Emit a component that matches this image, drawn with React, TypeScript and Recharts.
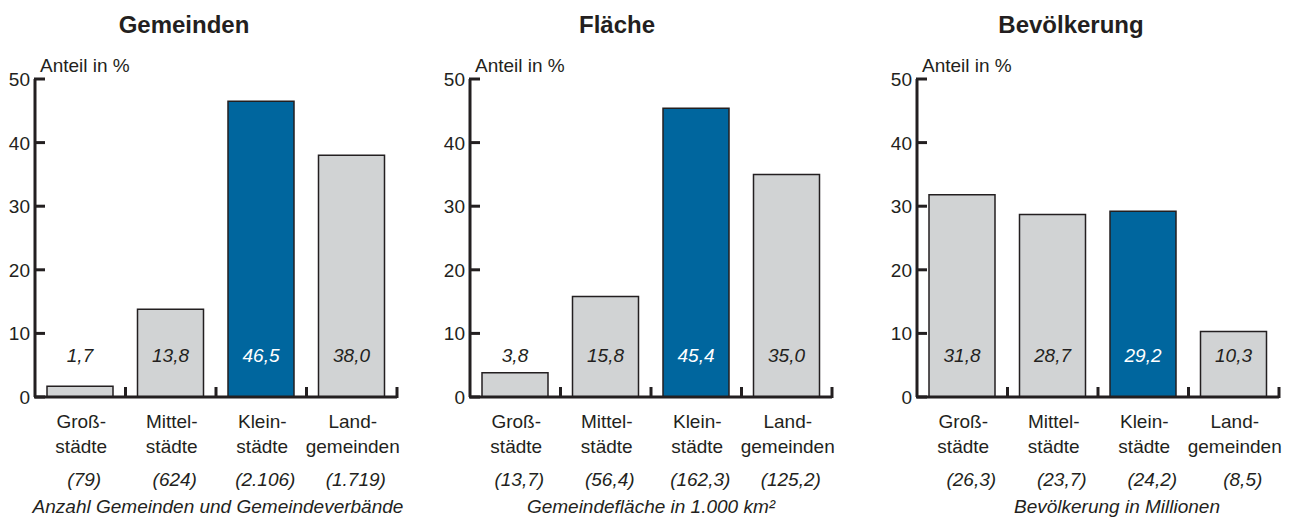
import React from 'react';
import { BarChart, Bar, XAxis, YAxis, Cell, LabelList } from 'recharts';

// ---------------------------------------------------------------------------
// Data
// ---------------------------------------------------------------------------

const CATEGORY_KEYS = ['gross', 'mittel', 'klein', 'land'];
const CATEGORY_LINE1 = ['Groß-', 'Mittel-', 'Klein-', 'Land-'];
const CATEGORY_LINE2 = ['städte', 'städte', 'städte', 'gemeinden'];
const HIGHLIGHT_INDEX = 2;

const Y_TICKS = [0, 10, 20, 30, 40, 50];

const GEMEINDEN_SHARE = [1.7, 13.8, 46.5, 38.0];
const GEMEINDEN_ABS = ['(79)', '(624)', '(2.106)', '(1.719)'];

const FLAECHE_SHARE = [3.8, 15.8, 45.4, 35.0];
const FLAECHE_ABS = ['(13,7)', '(56,4)', '(162,3)', '(125,2)'];

const BEVOELKERUNG_SHARE = [31.8, 28.7, 29.2, 10.3];
const BEVOELKERUNG_ABS = ['(26,3)', '(23,7)', '(24,2)', '(8,5)'];

// ---------------------------------------------------------------------------
// Styling
// ---------------------------------------------------------------------------

const INK = '#231f20';
const GRAY = '#d1d3d4';
const BLUE = '#00669e';
const FONT = '"Liberation Sans", Arial, Helvetica, sans-serif';

const CHART_W = 412;
const CHART_H = 518;
const AXIS_W = 35;
const X_AXIS_H = 121;
const MARGIN = { top: 79, right: 15, left: 0, bottom: 0 };
const PLOT_W = CHART_W - AXIS_W - MARGIN.right;

const fmt = (v: number) => v.toFixed(1).replace('.', ',');

// ---------------------------------------------------------------------------
// Custom ticks / labels
// ---------------------------------------------------------------------------

const YTick = (props: any) => {
  const { x, y, payload } = props;
  return (
    <g>
      <line x1={x + 4} x2={x + 15} y1={y} y2={y} stroke={INK} strokeWidth={3} />
      <text x={x} y={y + 7} textAnchor="end" fontSize={19} fill={INK}>
        {payload.value}
      </text>
    </g>
  );
};

const makeXTick = (abs: string[], absDx: number) => (props: any) => {
  const { x, y, payload, index } = props;
  const i = typeof index === 'number' ? index : CATEGORY_KEYS.indexOf(payload.value);
  const half = payload && typeof payload.offset === 'number' && payload.offset > 0
    ? payload.offset
    : PLOT_W / CATEGORY_KEYS.length / 2;
  return (
    <g>
      <line x1={x + half} x2={x + half} y1={y + 1} y2={y - 10} stroke={INK} strokeWidth={3} />
      <text x={x + 1} y={y + 31} textAnchor="middle" fontSize={19} fill={INK}>{CATEGORY_LINE1[i]}</text>
      <text x={x + 1} y={y + 56} textAnchor="middle" fontSize={19} fill={INK}>{CATEGORY_LINE2[i]}</text>
      <text x={x + absDx} y={y + 89} textAnchor="middle" fontSize={19} fontStyle="italic" fill={INK}>
        {abs[i]}
      </text>
    </g>
  );
};

const ValueLabel = (props: any) => {
  const vb = props.viewBox ?? props;
  const { x, y, width, height } = vb;
  const isHi = props.index === HIGHLIGHT_INDEX;
  return (
    <text
      x={x + width / 2}
      y={y + height - 35}
      textAnchor="middle"
      fontSize={19}
      fontStyle="italic"
      fill={isHi ? '#ffffff' : INK}
    >
      {props.value}
    </text>
  );
};

// ---------------------------------------------------------------------------
// Panel
// ---------------------------------------------------------------------------

interface PanelProps {
  title: string;
  titleDx: number;
  caption: string;
  captionDx: number;
  share: number[];
  abs: string[];
  absDx: number;
  left: number;
}

const Panel: React.FC<PanelProps> = ({ title, titleDx, caption, captionDx, share, abs, absDx, left }) => {
  const rows = CATEGORY_KEYS.map((key, i) => ({ key, value: share[i], label: fmt(share[i]) }));

  const yLabel = (p: any) => {
    const vb = p.viewBox;
    const axisX = vb.x + vb.width;
    return (
      <g>
        <text x={axisX + titleDx} y={33} textAnchor="middle" fontSize={24} fontWeight="bold" fill={INK}>
          {title}
        </text>
        <text x={axisX + 5} y={vb.y - 7} fontSize={19} fill={INK}>Anteil in %</text>
      </g>
    );
  };

  const xLabel = (p: any) => {
    const vb = p.viewBox;
    return (
      <text x={vb.x + vb.width / 2 + captionDx} y={vb.y + 116} textAnchor="middle" fontSize={19} fontStyle="italic" fill={INK}>
        {caption}
      </text>
    );
  };

  return (
    <div style={{ position: 'absolute', left, top: 0 }}>
      <BarChart width={CHART_W} height={CHART_H} data={rows} margin={MARGIN}>
        <XAxis
          dataKey="key"
          type="category"
          interval={0}
          height={X_AXIS_H}
          tickSize={0}
          tickMargin={0}
          tickLine={false}
          axisLine={{ stroke: INK, strokeWidth: 3 }}
          tick={makeXTick(abs, absDx)}
          label={{ content: xLabel }}
        />
        <YAxis
          width={AXIS_W}
          domain={[0, 50]}
          ticks={Y_TICKS}
          type="number"
          allowDataOverflow
          tickSize={0}
          tickMargin={5}
          tickLine={false}
          axisLine={{ stroke: INK, strokeWidth: 3 }}
          tick={<YTick />}
          label={{ content: yLabel }}
        />
        <Bar dataKey="value" barSize={66} stroke={INK} strokeWidth={1.5} isAnimationActive={false}>
          {rows.map((_, i) => (
            <Cell key={i} fill={i === HIGHLIGHT_INDEX ? BLUE : GRAY} />
          ))}
          <LabelList dataKey="label" content={<ValueLabel />} />
        </Bar>
      </BarChart>
    </div>
  );
};

// ---------------------------------------------------------------------------
// App
// ---------------------------------------------------------------------------

export default function App() {
  return (
    <div
      style={{
        position: 'absolute',
        left: 0,
        top: 0,
        width: 1295,
        height: 518,
        overflow: 'hidden',
        background: '#ffffff',
        fontFamily: FONT,
      }}
    >
      <Panel
        left={0}
        title="Gemeinden"
        titleDx={149}
        caption="Anzahl Gemeinden und Gemeindeverbände"
        captionDx={2}
        share={GEMEINDEN_SHARE}
        abs={GEMEINDEN_ABS}
        absDx={4}
      />
      <Panel
        left={435}
        title="Fläche"
        titleDx={147}
        caption="Gemeindefläche in 1.000 km²"
        captionDx={0}
        share={FLAECHE_SHARE}
        abs={FLAECHE_ABS}
        absDx={4}
      />
      <Panel
        left={882}
        title="Bevölkerung"
        titleDx={154}
        caption="Bevölkerung in Millionen"
        captionDx={19}
        share={BEVOELKERUNG_SHARE}
        abs={BEVOELKERUNG_ABS}
        absDx={9}
      />
    </div>
  );
}
